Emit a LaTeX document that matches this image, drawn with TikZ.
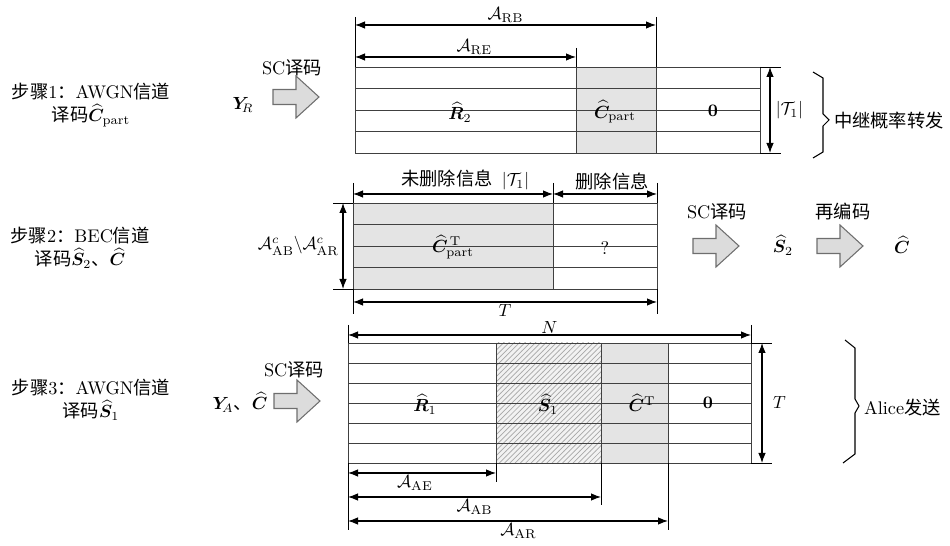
\documentclass[tikz,border=0pt]{standalone}
\usepackage{fontspec}
\usepackage{amsmath,amssymb,bm}
\newfontfamily\cjk{Noto Sans CJK SC}
\usetikzlibrary{arrows.meta,patterns}

\begin{document}
\begin{tikzpicture}[x=0.02cm, y=-0.02cm, font=\fontsize{10.4}{14}\selectfont,
    dim/.style={{Latex[length=2mm,width=1.5mm]}-{Latex[length=2mm,width=1.5mm]}, line width=0.6pt},
    tick/.style={line width=0.5pt},
    cell/.style={line width=0.5pt, draw=black!75},
    brace/.style={line width=0.6pt, line join=miter},
    steplabel/.style={align=center, inner sep=1pt}]

    % Define colours
    \definecolor{borderColour}{HTML}{6E6E6E}
    \definecolor{fillColour}{HTML}{E4E4E4}
    \definecolor{arrowColour}{HTML}{DCDCDC}
    \definecolor{hatchColour}{HTML}{A8A8A8}

    % Block arrow
    \tikzset{pics/bigarrow/.style={code={
        \filldraw[fill=arrowColour, draw=borderColour, line width=0.6pt]
            (0,-7.5) -- (23,-7.5) -- (23,-21) -- (46,0) -- (23,21) -- (23,7.5) -- (0,7.5) -- cycle;}}}

    % Fix canvas
    \useasboundingbox (0,0) rectangle (950,546);

    % ---------- Step 1 ----------
    \node[steplabel] (step1) at (91,105) {{\cjk 步骤}1{\cjk ：}AWGN{\cjk 信道}\\[-1pt]{\cjk 译码}$\widehat{\bm C}_{\mathrm{part}}$};
    \node (yR) at (243,105) {$\bm Y_{\!R}$};
    \pic at (273,97) {bigarrow};
    \node (sc1) at (292,68) {SC{\cjk 译码}};

    % Draw grid
    \fill[fillColour] (576,67) rectangle (656,153);
    \foreach \y in {67,88.5,110,131.5,153}
        \draw[cell] (355,\y) -- (760,\y);
    \foreach \x in {355,576,656,760}
        \draw[cell] (\x,67) -- (\x,153);

    \node (R2) at (460,112) {$\widehat{\bm R}_2$};
    \node (Cpart) at (615,112) {$\widehat{\bm C}_{\mathrm{part}}$};
    \node (zero1) at (713,111) {$\bm 0$};

    % Dimensions
    \coordinate (RBl) at (355,25);
    \coordinate (RBr) at (656,25);
    \coordinate (REl) at (355,57);
    \coordinate (REr) at (576,57);
    \draw[tick] (355,17) -- (355,67);
    \draw[tick] (656,17) -- (656,67);
    \draw[tick] (576,48) -- (576,67);
    \draw[dim] (RBl) -- node[above, inner sep=1pt] (lRB) {$\mathcal{A}_{\mathrm{RB}}$} (RBr);
    \draw[dim] (REl) -- node[above, inner sep=1pt, xshift=5pt] (lRE) {$\mathcal{A}_{\mathrm{RE}}$} (REr);

    \coordinate (T1t) at (770,67);
    \coordinate (T1b) at (770,153);
    \draw[tick] (760,67) -- (781,67);
    \draw[tick] (760,153) -- (781,153);
    \draw[dim] (T1t) -- node[right, inner sep=3pt] (lT1) {$|\mathcal{T}_1|$} (T1b);

    \draw[brace] (813,72) -- (823,78) -- (823,114) -- (829,120) -- (823,126) -- (823,152) -- (813,158);
    \node[anchor=west, inner sep=1pt] (relay) at (832,121) {\cjk 中继概率转发};

    % ---------- Step 2 ----------
    \node[steplabel] (step2) at (80,248) {{\cjk 步骤}2{\cjk ：}BEC{\cjk 信道}\\[-1pt]{\cjk 译码}$\widehat{\bm S}_2${\cjk 、}$\widehat{\bm C}$};

    % Draw grid
    \fill[fillColour] (353,203) rectangle (553,289);
    \foreach \y in {203,224.5,246,267.5,289}
        \draw[cell] (353,\y) -- (657,\y);
    \foreach \x in {353,553,657}
        \draw[cell] (\x,203) -- (\x,289);

    \node (CpartT) at (453,247) {$\widehat{\bm C}_{\mathrm{part}}^{\,\mathrm{T}}$};
    \node (erased) at (605,248) {?};

    % Dimensions
    \coordinate (Ul) at (353,194);
    \coordinate (Um) at (553,194);
    \coordinate (Ur) at (657,194);
    \draw[tick] (353,183) -- (353,203);
    \draw[tick] (553,183) -- (553,203);
    \draw[tick] (657,183) -- (657,203);
    \draw[dim] (Ul) -- node[above, inner sep=2pt, xshift=7pt] (lkept) {{\cjk 未删除信息}\enspace$|\mathcal{T}_1|$} (Um);
    \draw[dim] (Um) -- node[above, inner sep=2pt, xshift=4pt] (lerased) {\cjk 删除信息} (Ur);

    \coordinate (Tl) at (353,302);
    \coordinate (Tr) at (657,302);
    \draw[tick] (353,289) -- (353,314);
    \draw[tick] (657,289) -- (657,314);
    \draw[dim] (Tl) -- node[below, inner sep=1pt] (lT2) {$T$} (Tr);

    \coordinate (Dt) at (343,203);
    \coordinate (Db) at (343,289);
    \draw[tick] (333,203) -- (353,203);
    \draw[tick] (333,289) -- (353,289);
    \draw[dim] (Dt) -- node[left, inner sep=2pt] (lD) {$\mathcal{A}_{\mathrm{AB}}^{c}\backslash\mathcal{A}_{\mathrm{AR}}^{c}$} (Db);

    \pic at (693,246) {bigarrow};
    \node (sc2) at (717,212) {SC{\cjk 译码}};
    \node (S2) at (783,245) {$\widehat{\bm S}_2$};
    \pic at (817,246) {bigarrow};
    \node (reenc) at (843,212) {\cjk 再编码};
    \node (Chat) at (902,245) {$\widehat{\bm C}$};

    % ---------- Step 3 ----------
    \node[steplabel] (step3) at (91,400) {{\cjk 步骤}3{\cjk ：}AWGN{\cjk 信道}\\[-1pt]{\cjk 译码}$\widehat{\bm S}_1$};
    \node (yA) at (240,402) {$\bm Y_{\!A}${\cjk 、}$\widehat{\bm C}$};
    \pic at (274,401) {bigarrow};
    \node (sc3) at (294,370) {SC{\cjk 译码}};

    % Draw grid
    \fill[gray!10] (496,343) rectangle (601,463);
    \fill[pattern=north east lines, pattern color=hatchColour] (496,343) rectangle (601,463);
    \fill[fillColour] (601,343) rectangle (668,463);
    \foreach \y in {343,363,...,463}
        \draw[cell] (348,\y) -- (751,\y);
    \foreach \x in {348,496,601,668,751}
        \draw[cell] (\x,343) -- (\x,463);

    \node (R1) at (425,404) {$\widehat{\bm R}_1$};
    \node (S1) at (548,404) {$\widehat{\bm S}_1$};
    \node (CT) at (642,403) {$\widehat{\bm C}^{\mathrm{T}}$};
    \node (zero3) at (708,403) {$\bm 0$};

    % Dimensions
    \coordinate (Nl) at (348,335);
    \coordinate (Nr) at (751,335);
    \draw[tick] (348,325) -- (348,343);
    \draw[tick] (751,325) -- (751,343);
    \draw[dim] (Nl) -- node[above, inner sep=0.5pt] (lN) {$N$} (Nr);

    \coordinate (T3t) at (762,343);
    \coordinate (T3b) at (762,463);
    \draw[tick] (751,343) -- (772,343);
    \draw[tick] (751,463) -- (772,463);
    \draw[dim] (T3t) -- node[right, inner sep=6pt] (lT3) {$T$} (T3b);

    \draw[brace] (845,340) -- (855,348) -- (855,399) -- (859,406) -- (855,413) -- (855,454) -- (843,463);
    \node[anchor=west, inner sep=1pt] (alice) at (862,408) {Alice{\cjk 发送}};

    \coordinate (AEl) at (348,473);
    \coordinate (AEr) at (496,473);
    \coordinate (ABl) at (348,497);
    \coordinate (ABr) at (601,497);
    \coordinate (ARl) at (348,521);
    \coordinate (ARr) at (668,521);
    \draw[tick] (348,463) -- (348,530);
    \draw[tick] (496,463) -- (496,482);
    \draw[tick] (601,463) -- (601,505);
    \draw[tick] (668,463) -- (668,530);
    \draw[dim] (AEl) -- node[below, inner sep=1pt, xshift=-4pt] (lAE) {$\mathcal{A}_{\mathrm{AE}}$} (AEr);
    \draw[dim] (ABl) -- node[below, inner sep=1pt] (lAB) {$\mathcal{A}_{\mathrm{AB}}$} (ABr);
    \draw[dim] (ARl) -- node[below, inner sep=1pt, xshift=6pt] (lAR) {$\mathcal{A}_{\mathrm{AR}}$} (ARr);

\end{tikzpicture}
\end{document}
